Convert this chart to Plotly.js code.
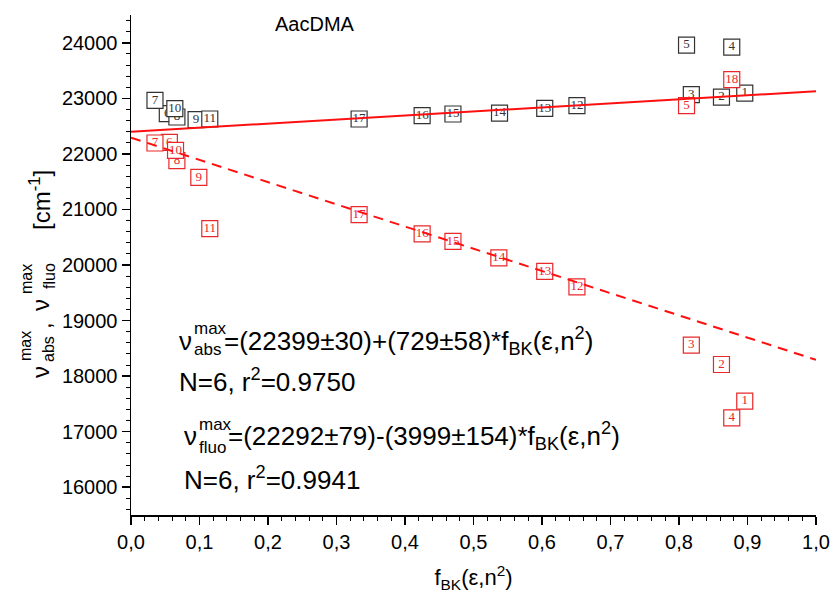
<!DOCTYPE html>
<html><head><meta charset="utf-8">
<script src="https://cdn.plot.ly/plotly-3.0.1.min.js"></script>
<style>body{margin:0;background:#fff}</style>
</head><body><div id="chart" style="width:837px;height:611px"></div>
<script>
// ---- data ----
const absLabels = ['1','2','3','4','5','6','7','8','9','10','11','12','13','14','15','16','17'];
const absX = [0.896,0.862,0.818,0.877,0.811,0.053,0.035,0.067,0.095,0.064,0.115,0.651,0.604,0.538,0.470,0.425,0.333];
const absY = [23095,23023,23065,23923,23959,22723,22962,22664,22615,22813,22628,22867,22819,22735,22718,22687,22628];

const fluoLabels = ['1','2','3','4','5','6','7','8','9','10','11','12','13','14','15','16','17','18'];
const fluoX = [0.896,0.862,0.818,0.877,0.811,0.056,0.035,0.067,0.099,0.065,0.115,0.651,0.604,0.537,0.470,0.425,0.333,0.877];
const fluoY = [17549,18209,18556,17250,22867,22207,22196,21878,21578,22063,20655,19606,19887,20127,20427,20559,20906,23335];

const fitX = [0, 1];
const absFitY = [22399, 23128];
const fluoFitY = [22292, 18293];

const xTickVals = [0,0.1,0.2,0.3,0.4,0.5,0.6,0.7,0.8,0.9,1.0];
const xTickText = ['0,0','0,1','0,2','0,3','0,4','0,5','0,6','0,7','0,8','0,9','1,0'];
const yTickVals = [16000,17000,18000,19000,20000,21000,22000,23000,24000];
const yTickText = ['16000','17000','18000','19000','20000','21000','22000','23000','24000'];

// ---- styles ----
const BLACK = '#333333';
const RED = '#e8282a';
const LINE_RED = '#ff1010';
const SANS = 'Liberation Sans, Arial, sans-serif';
const SERIF = 'Liberation Serif, Times New Roman, serif';

const traces = [];
function addPoints(xs, ys, labels, color) {
  for (let i = 0; i < xs.length; i++) {
    traces.push({
      type: 'scatter', mode: 'markers+text',
      x: [xs[i]], y: [ys[i]], text: [labels[i]],
      textposition: 'middle center',
      textfont: {family: SERIF, size: 13, color: color},
      marker: {symbol: 'square', size: 16, color: '#ffffff', line: {color: color, width: 1.2}},
      hoverinfo: 'skip', showlegend: false, cliponaxis: false
    });
  }
}
addPoints(absX, absY, absLabels, BLACK);
addPoints(fluoX, fluoY, fluoLabels, RED);

traces.push({type:'scatter', mode:'lines', x: fitX, y: absFitY,
  line:{color: LINE_RED, width: 2}, hoverinfo:'skip', showlegend:false});
traces.push({type:'scatter', mode:'lines', x: fitX, y: fluoFitY,
  line:{color: LINE_RED, width: 2, dash: '10px,7px'}, hoverinfo:'skip', showlegend:false});

// pixel -> paper helpers (plot area: x 131..816, y 15..515)
const L = 131, R = 816, T = 15, B = 515;
function px(x) { return (x - L) / (R - L); }
function py(y) { return (B - y) / (B - T); }
function ann(text, x, y, size, extra) {
  return Object.assign({
    xref:'paper', yref:'paper', x: px(x), y: py(y), text: text,
    xanchor:'left', yanchor:'middle', showarrow:false,
    font:{family: SANS, size: size, color:'#000'}
  }, extra || {});
}
function rot(text, x, y, size) {
  return ann(text, x, y, size, {xanchor:'center', yanchor:'middle', textangle:-90});
}

const annotations = [
  ann('AacDMA', 315, 24, 20, {xanchor:'center'}),
  // equation 1
  ann('ν', 177, 341, 26),
  ann('max', 192, 328, 17),
  ann('abs', 192, 350, 17),
  ann('=(22399±30)+(729±58)*f<sub>BK</sub>(ε,n<sup>2</sup>)', 222, 341, 26),
  ann('N=6, r<sup>2</sup>=0.9750', 177, 380, 26),
  // equation 2
  ann('ν', 182, 436, 26),
  ann('max', 197, 424, 17),
  ann('fluo', 197, 447, 17),
  ann('=(22292±79)-(3999±154)*f<sub>BK</sub>(ε,n<sup>2</sup>)', 226, 436, 26),
  ann('N=6, r<sup>2</sup>=0.9941', 182, 478, 26),
  // y-axis title pieces (rotated)
  rot('ν', 40, 372, 24),
  rot('max', 26, 346, 16),
  rot('abs', 49, 349, 16),
  rot(',', 42, 326, 24),
  rot('ν', 40, 305, 24),
  rot('max', 26, 279, 16),
  rot('fluo', 49, 276, 16),
  rot('[cm<sup>-1</sup>]', 40, 200, 24)
];

const layout = {
  width: 837, height: 611,
  margin: {l: L, r: 837 - R, t: T, b: 611 - B},
  paper_bgcolor: '#fff', plot_bgcolor: '#fff',
  font: {family: SANS, color: '#000'},
  xaxis: {
    range: [0, 1], tickvals: xTickVals, ticktext: xTickText,
    ticks: 'outside', ticklen: 8, tickwidth: 1.5, tickcolor: '#000',
    minor: {dtick: 0.02, ticks: 'outside', ticklen: 4, tickwidth: 1, tickcolor: '#000'},
    showline: true, linecolor: '#000', linewidth: 1.5,
    showgrid: false, zeroline: false,
    tickfont: {family: SANS, size: 20, color: '#000'},
    title: {text: 'f<sub>BK</sub>(ε,n<sup>2</sup>)', font: {family: SANS, size: 22, color: '#000'}, standoff: 18}
  },
  yaxis: {
    range: [15500, 24500], tickvals: yTickVals, ticktext: yTickText,
    ticks: 'outside', ticklen: 8, tickwidth: 1.5, tickcolor: '#000',
    minor: {dtick: 200, ticks: 'outside', ticklen: 4, tickwidth: 1, tickcolor: '#000'},
    showline: true, linecolor: '#000', linewidth: 1.5,
    showgrid: false, zeroline: false,
    tickfont: {family: SANS, size: 20, color: '#000'}
  },
  annotations: annotations,
  showlegend: false
};

Plotly.newPlot('chart', traces, layout, {staticPlot: true, displayModeBar: false});
</script>
</body></html>
